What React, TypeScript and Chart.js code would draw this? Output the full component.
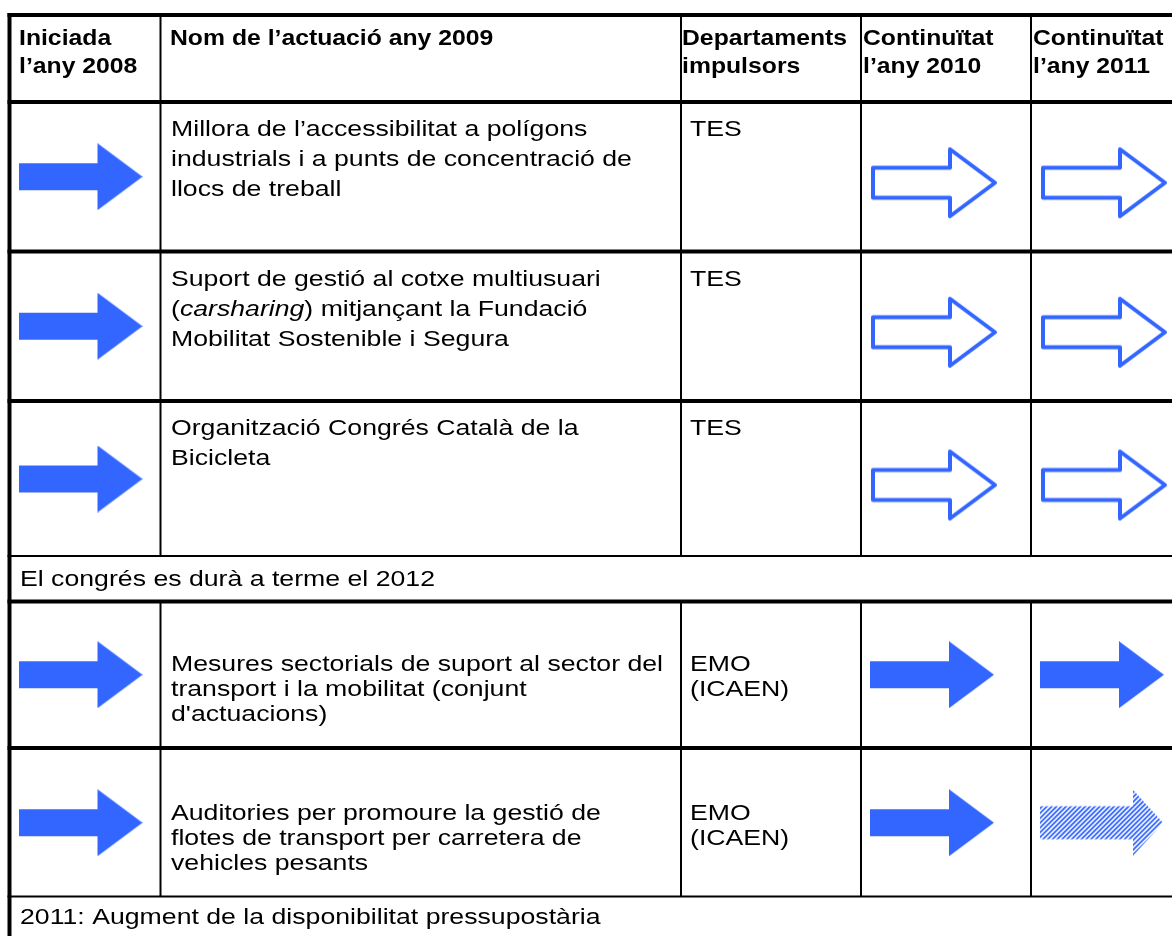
import React, { useEffect, useRef } from "react";
import { Chart, registerables } from "chart.js";

Chart.register(...registerables);

// ---------------- DATA ----------------
const HEADERS = [
  "Iniciada\nl’any 2008",
  "Nom de l’actuació any 2009",
  "Departaments\nimpulsors",
  "Continuïtat\nl’any 2010",
  "Continuïtat\nl’any 2011",
];

const ACTIONS = [
  "Millora de l’accessibilitat a polígons\nindustrials i a punts de concentració de\nllocs de treball",
  "Suport de gestió al cotxe multiusuari\n(*carsharing*) mitjançant la Fundació\nMobilitat Sostenible i Segura",
  "Organització Congrés Català de la\nBicicleta",
  "Mesures sectorials de suport al sector del\ntransport i la mobilitat (conjunt\nd'actuacions)",
  "Auditories per promoure la gestió de\nflotes de transport per carretera de\nvehicles pesants",
];

const DEPARTMENTS = ["TES", "TES", "TES", "EMO\n(ICAEN)", "EMO\n(ICAEN)"];

// arrow kind per row: filled = en marxa, outline = previst, hatched = parcial
const STATUS_2008 = ["filled", "filled", "filled", "filled", "filled"];
const STATUS_2010 = ["outline", "outline", "outline", "filled", "filled"];
const STATUS_2011 = ["outline", "outline", "outline", "filled", "hatched"];

const NOTES = [
  "El congrés es durà a terme el 2012",
  "2011: Augment de la disponibilitat pressupostària",
];

// ---------------- LAYOUT (pixel units on the scales) ----------------
const W = 1172;
const H = 936;
const BLUE = "#3366ff";
const FONT = '"Liberation Sans", Arial, Helvetica, sans-serif';
const BODY_SIZE = 22.5;
const BODY_SX = 1.185;
const HEAD_SIZE = 22.5;
const HEAD_SX = 1.1;
const HEAD_LH = 28;
const HEAD_OFFSET = 28;

// horizontal rules: centre y and thickness
const H_LINES = [
  { y: 15, w: 4 },
  { y: 102, w: 4 },
  { y: 251.5, w: 4 },
  { y: 401, w: 4 },
  { y: 556, w: 2 },
  { y: 601.5, w: 4 },
  { y: 748, w: 4 },
  { y: 896.5, w: 2 },
  { y: 990, w: 2 },
];
// vertical rules: centre x and thickness
const V_LINES = [
  { x: 9.5, w: 4 },
  { x: 160.5, w: 2 },
  { x: 681, w: 2 },
  { x: 861, w: 2 },
  { x: 1031, w: 2 },
];
const ROW_BANDS = [
  [1, 2],
  [2, 3],
  [3, 4],
  [5, 6],
  [6, 7],
];
const NOTE_BANDS = [
  [4, 5],
  [7, 8],
];
const ROW_TEXT_OFFSET = [32, 32, 32, 67, 70];
const ROW_LH = [30, 30, 30, 25, 25];
const NOTE_TEXT_OFFSET = [29, 26];
const HEAD_TEXT_X = [19, 170, 682, 863, 1033];
const BODY_TEXT_X = [20, 171, 690];
const ARROW_PAD = 9;

type Kind = "filled" | "outline" | "hatched";
const ARROW_SIZE: Record<Kind, { w: number; h: number; dy: number }> = {
  filled: { w: 124, h: 67, dy: 0 },
  outline: { w: 130, h: 73, dy: 6 },
  hatched: { w: 124, h: 66, dy: 0 },
};

function makeArrow(kind: Kind): HTMLCanvasElement {
  const s = ARROW_SIZE[kind];
  const c = document.createElement("canvas");
  c.width = s.w;
  c.height = s.h;
  const ctx = c.getContext("2d")!;
  const path = (x0: number, y0: number, w: number, h: number, shaft: number, headX: number) => {
    const cy = y0 + h / 2;
    ctx.beginPath();
    ctx.moveTo(x0, cy - shaft / 2);
    ctx.lineTo(x0 + headX, cy - shaft / 2);
    ctx.lineTo(x0 + headX, y0);
    ctx.lineTo(x0 + w, cy);
    ctx.lineTo(x0 + headX, y0 + h);
    ctx.lineTo(x0 + headX, cy + shaft / 2);
    ctx.lineTo(x0, cy + shaft / 2);
    ctx.closePath();
  };
  if (kind === "filled") {
    path(0, 0, 124, 67, 27, 79);
    ctx.fillStyle = BLUE;
    ctx.fill();
  } else if (kind === "outline") {
    path(3, 3, 122, 67, 30, 77);
    ctx.strokeStyle = BLUE;
    ctx.lineWidth = 4;
    ctx.lineJoin = "round";
    ctx.stroke();
  } else {
    path(0, 0, 123, 66, 33, 93);
    ctx.save();
    ctx.clip();
    ctx.strokeStyle = BLUE;
    ctx.lineWidth = 1.8;
    for (let x = -80; x < 220; x += 4.8) {
      ctx.beginPath();
      ctx.moveTo(x, 70);
      ctx.lineTo(x + 70, 0);
      ctx.stroke();
    }
    ctx.restore();
  }
  return c;
}

function drawRich(
  ctx: CanvasRenderingContext2D,
  text: string,
  x: number,
  y: number,
  size: number,
  bold: boolean,
  sx: number
) {
  const parts = text.split("*");
  ctx.save();
  ctx.translate(x, y);
  ctx.scale(sx, 1);
  let cx = 0;
  parts.forEach((p, i) => {
    const italic = i % 2 === 1;
    ctx.font = `${italic ? "italic " : ""}${bold ? "bold " : ""}${size}px ${FONT}`;
    ctx.fillText(p, cx, 0);
    cx += ctx.measureText(p).width;
  });
  ctx.restore();
}

const tablePlugin = {
  id: "tableGrid",
  beforeDatasetsDraw(chart: any) {
    const ctx: CanvasRenderingContext2D = chart.ctx;
    const xs = chart.scales.x;
    const ys = chart.scales.y;
    const px = (v: number) => xs.getPixelForValue(v);
    const py = (v: number) => ys.getPixelForValue(v);
    ctx.save();
    ctx.fillStyle = "#ffffff";
    ctx.fillRect(0, 0, chart.width, chart.height);
    ctx.fillStyle = "#000000";

    const left = V_LINES[0].x - V_LINES[0].w / 2;
    H_LINES.forEach((l) => {
      const y0 = py(l.y - l.w / 2);
      const y1 = py(l.y + l.w / 2);
      ctx.fillRect(px(left), y0, px(W) - px(left), y1 - y0);
    });
    const spans: [number, number][] = [
      [0, 4],
      [5, 7],
    ];
    V_LINES.forEach((v, i) => {
      const x0 = px(v.x - v.w / 2);
      const x1 = px(v.x + v.w / 2);
      if (i === 0) {
        const y0 = py(H_LINES[0].y - H_LINES[0].w / 2);
        ctx.fillRect(x0, y0, x1 - x0, py(H + 60) - y0);
      } else {
        spans.forEach(([a, b]) => {
          const y0 = py(H_LINES[a].y);
          const y1 = py(H_LINES[b].y);
          ctx.fillRect(x0, y0, x1 - x0, y1 - y0);
        });
      }
    });

    ctx.textBaseline = "alphabetic";
    ctx.textAlign = "left";
    const headTop = H_LINES[0].y + H_LINES[0].w / 2;
    HEADERS.forEach((h, c) => {
      h.split("\n").forEach((line, i) => {
        drawRich(ctx, line, px(HEAD_TEXT_X[c]), py(headTop + HEAD_OFFSET + i * HEAD_LH), HEAD_SIZE, true, HEAD_SX);
      });
    });
    ACTIONS.forEach((a, r) => {
      const top = H_LINES[ROW_BANDS[r][0]].y + H_LINES[ROW_BANDS[r][0]].w / 2;
      const base = top + ROW_TEXT_OFFSET[r];
      a.split("\n").forEach((line, i) => {
        drawRich(ctx, line, px(BODY_TEXT_X[1]), py(base + i * ROW_LH[r]), BODY_SIZE, false, BODY_SX);
      });
      DEPARTMENTS[r].split("\n").forEach((line, i) => {
        drawRich(ctx, line, px(BODY_TEXT_X[2]), py(base + i * ROW_LH[r]), BODY_SIZE, false, BODY_SX);
      });
    });
    NOTES.forEach((n, k) => {
      const top = H_LINES[NOTE_BANDS[k][0]].y + H_LINES[NOTE_BANDS[k][0]].w / 2;
      drawRich(ctx, n, px(BODY_TEXT_X[0]), py(top + NOTE_TEXT_OFFSET[k]), BODY_SIZE, false, BODY_SX);
    });
    ctx.restore();
  },
};

function bandCenter(r: number) {
  const a = H_LINES[ROW_BANDS[r][0]];
  const b = H_LINES[ROW_BANDS[r][1]];
  return (a.y + a.w / 2 + b.y - b.w / 2) / 2;
}

export default function App() {
  const ref = useRef<HTMLCanvasElement | null>(null);
  useEffect(() => {
    if (!ref.current) return;
    document.body.style.margin = "0";
    const imgs: Record<Kind, HTMLCanvasElement> = {
      filled: makeArrow("filled"),
      outline: makeArrow("outline"),
      hatched: makeArrow("hatched"),
    };
    const cols: [number, string[]][] = [
      [0, STATUS_2008],
      [3, STATUS_2010],
      [4, STATUS_2011],
    ];
    const pts: Record<Kind, { x: number; y: number }[]> = { filled: [], outline: [], hatched: [] };
    cols.forEach(([c, status]) => {
      status.forEach((k, r) => {
        const kind = k as Kind;
        const s = ARROW_SIZE[kind];
        pts[kind].push({
          x: V_LINES[c].x + ARROW_PAD + s.w / 2,
          y: bandCenter(r) + s.dy,
        });
      });
    });
    const kinds: Kind[] = ["filled", "outline", "hatched"];
    const chart = new Chart(ref.current, {
      type: "scatter",
      data: {
        datasets: kinds.map((k) => ({
          label: k,
          data: pts[k],
          pointStyle: imgs[k] as any,
          pointRadius: 1,
          clip: false as any,
        })),
      },
      options: {
        animation: false,
        responsive: false,
        devicePixelRatio: 1,
        events: [],
        layout: { padding: 0, autoPadding: false } as any,
        plugins: { legend: { display: false }, tooltip: { enabled: false } },
        scales: {
          x: { type: "linear", min: 0, max: W, display: false },
          y: { type: "linear", min: 0, max: H, reverse: true, display: false },
        },
      },
      plugins: [tablePlugin],
    });
    return () => chart.destroy();
  }, []);
  return (
    <div style={{ position: "absolute", left: 0, top: 0, width: W, height: H, background: "#fff" }}>
      <canvas ref={ref} width={W} height={H} style={{ display: "block" }} />
    </div>
  );
}
